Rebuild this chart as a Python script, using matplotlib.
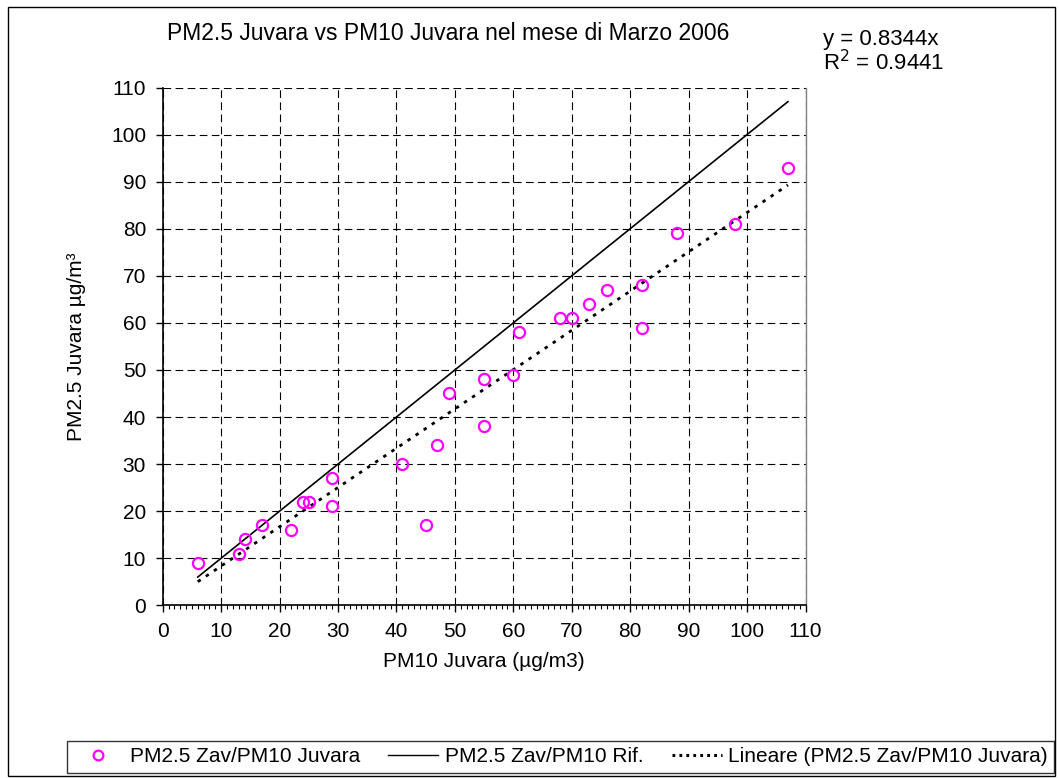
import matplotlib
matplotlib.use("Agg")
import matplotlib.pyplot as plt
from matplotlib.ticker import MultipleLocator
from matplotlib.lines import Line2D
from matplotlib.patches import Rectangle

plt.rcParams['font.family'] = ['Liberation Sans', 'DejaVu Sans']
plt.rcParams['lines.scale_dashes'] = False

pm10 = [6, 13, 14, 17, 22, 24, 25, 29, 29, 41, 45, 47, 49, 55, 55, 60, 61,
        68, 70, 73, 76, 82, 82, 88, 98, 107]
pm25 = [9, 11, 14, 17, 16, 22, 22, 27, 21, 30, 17, 34, 45, 48, 38, 49, 58,
        61, 61, 64, 67, 68, 59, 79, 81, 93]
slope = 0.8344
r2 = 0.9441
line_x = [6, 107]

title = "PM2.5 Juvara vs PM10 Juvara nel mese di Marzo 2006"
xlabel = "PM10 Juvara (µg/m3)"
ylabel = "PM2.5 Juvara µg/m³"
lab_pts = "PM2.5 Zav/PM10 Juvara"
lab_ref = "PM2.5 Zav/PM10 Rif."
lab_fit = "Lineare (PM2.5 Zav/PM10 Juvara)"

W, H = 1060, 778
fig = plt.figure(figsize=(W/100, H/100), dpi=100)
fs = 15

# outer border
fig.patches.append(Rectangle((8/W, 1-776/H), (1055-8)/W, (776-7)/H,
                             transform=fig.transFigure, fill=False,
                             edgecolor='black', lw=1.0))

ax = fig.add_axes([162.7/W, 1-605.3/H, (805.5-162.7)/W, (605.3-87.5)/H])
ax.set_xlim(0, 110)
ax.set_ylim(0, 110)

ax.xaxis.set_major_locator(MultipleLocator(10))
ax.xaxis.set_minor_locator(MultipleLocator(1))
ax.yaxis.set_major_locator(MultipleLocator(10))

ax.grid(True, which='major', color='black', lw=0.8, ls=(0, (5.5, 3.2)))
ax.set_axisbelow(True)

ax.tick_params(axis='both', which='major', direction='out', length=5,
               width=1, labelsize=fs, pad=7)
ax.tick_params(axis='x', which='minor', direction='out', length=3, width=0.8)
ax.tick_params(axis='y', which='minor', left=False)

for s in ['left', 'bottom']:
    ax.spines[s].set_linewidth(1.2)
    ax.spines[s].set_color('black')
ax.spines['top'].set_visible(False)
ax.spines['right'].set_color('#808080')
ax.spines['right'].set_linewidth(1.0)

ax.plot(line_x, line_x, color='black', lw=1.2, label=lab_ref, zorder=3)
ax.plot(line_x, [slope*v for v in line_x], color='black', lw=2.0,
        ls=(0, (2.5, 4.5)), label=lab_fit, zorder=3)
ax.plot(pm10, pm25, ls='none', marker='o', markersize=8, mfc='none',
        mec='#ff00ff', mew=1.6, label=lab_pts, zorder=4)

ax.set_xlabel(xlabel, fontsize=fs, labelpad=8)
ax.set_ylabel(ylabel, fontsize=fs, labelpad=18)

fig.text(448/W, 1-33/H, title, ha='center', va='center', fontsize=16.5)
fig.text(823/W, 1-39/H, "y = 0.8344x", ha='left', va='center', fontsize=16)
fig.text(823/W, 1-63/H, "R$^2$ = 0.9441", ha='left', va='center', fontsize=16)

h_pts = Line2D([], [], ls='none', marker='o', markersize=7, mfc='none',
               mec='#ff00ff', mew=1.6)
h_ref = Line2D([], [], color='black', lw=1.0)
h_fit = Line2D([], [], color='black', lw=2.2, ls=(0, (2.0, 3.0)))
leg = fig.legend([h_pts, h_ref, h_fit], [lab_pts, lab_ref, lab_fit],
                 loc='center', bbox_to_anchor=(67/W, 1-773/H, 987/W, 32/H),
                 mode='expand', ncol=3,
                 fontsize=fs, frameon=True, fancybox=False, edgecolor='black',
                 handlelength=2.4, handletextpad=0.3, columnspacing=0.4,
                 borderpad=0.3, borderaxespad=0)
leg.get_frame().set_linewidth(1.0)

fig.savefig("out.png", dpi=100)
